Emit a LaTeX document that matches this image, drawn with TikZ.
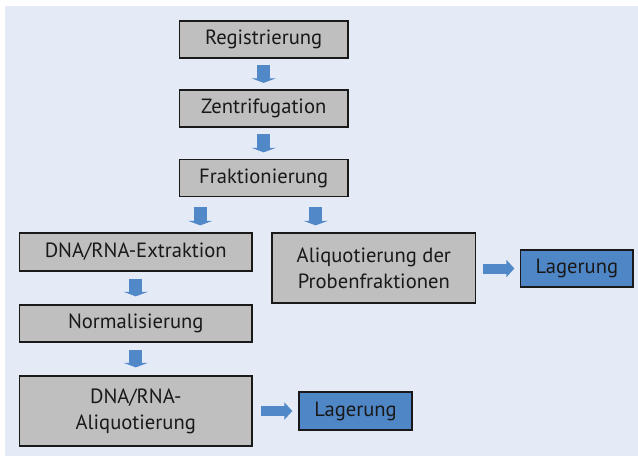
\documentclass[tikz,border=0pt]{standalone}
\usepackage{fontspec}
\setmainfont{PT Sans}
\usetikzlibrary{arrows.meta,calc}
\definecolor{bgc}{RGB}{228,234,246}
\definecolor{boxgray}{RGB}{191,191,191}
\definecolor{boxblue}{RGB}{79,134,198}
\definecolor{arrblue}{RGB}{80,136,200}
\tikzset{
  graybox/.style={draw=black!90, line width=1.3pt, fill=boxgray, inner sep=0pt, align=center,
    font=\fontsize{20.6}{26}\selectfont, text=black!90},
  bluebox/.style={graybox, fill=boxblue},
  downarr/.style={draw=arrblue, line width=13pt, -{Triangle[width=24pt,length=4.5pt]}},
  rightarr/.style={draw=arrblue, line width=10pt, -{Triangle[width=17pt,length=8pt]}},
}
\begin{document}
\begin{tikzpicture}[x=1pt,y=-1pt]
\useasboundingbox (0,0) rectangle (638,456);
\fill[bgc] (5,6) rectangle (638,456);
\node[graybox, minimum width=168.7pt, minimum height=37pt] (reg) at (263.7,39.5) {Registrierung};
\node[graybox, minimum width=168.7pt, minimum height=37pt] (zen) at (263.7,108.5) {Zentrifugation};
\node[graybox, minimum width=168.7pt, minimum height=37pt] (frak) at (263.7,178) {Fraktionierung};
\node[graybox, minimum width=232.5pt, minimum height=38pt] (ext) at (135.75,252) {DNA/RNA-Extraktion};
\node[graybox, minimum width=232.5pt, minimum height=37pt] (norm) at (135.75,323.5) {Normalisierung};
\node[graybox, minimum width=232.5pt, minimum height=70pt] (dali) at (135.75,411) {DNA/RNA-\\Aliquotierung};
\node[graybox, minimum width=203.7pt, minimum height=70pt] (aliq) at (373.85,268) {Aliquotierung der\\Probenfraktionen};
\node[bluebox, minimum width=112.3pt, minimum height=37pt] (lag1) at (576.85,268.5) {Lagerung};
\node[bluebox, minimum width=113pt, minimum height=38pt] (lag2) at (355.5,411) {Lagerung};
\coordinate (cl) at (200.3,0);
\coordinate (cr) at (315.7,0);
\draw[downarr, shorten <=6pt, shorten >=6.5pt] (reg.south) -- (zen.north);
\draw[downarr, shorten <=6pt, shorten >=6.5pt] (zen.south) -- (frak.north);
\draw[downarr, shorten <=10pt, shorten >=7pt] (frak.south -| cl) -- (ext.north -| cl);
\draw[downarr, shorten <=10pt, shorten >=7pt] (frak.south -| cr) -- (aliq.north -| cr);
\draw[downarr, shorten <=7pt, shorten >=8pt] (ext.south) -- (norm.north);
\draw[downarr, shorten <=7pt, shorten >=8pt] (norm.south) -- (dali.north);
\draw[rightarr, shorten <=6.5pt, shorten >=5.7pt] (aliq.east |- lag1.west) -- (lag1.west);
\draw[rightarr, shorten <=8.7pt, shorten >=6pt] (dali.east) -- (lag2.west);
\end{tikzpicture}
\end{document}
